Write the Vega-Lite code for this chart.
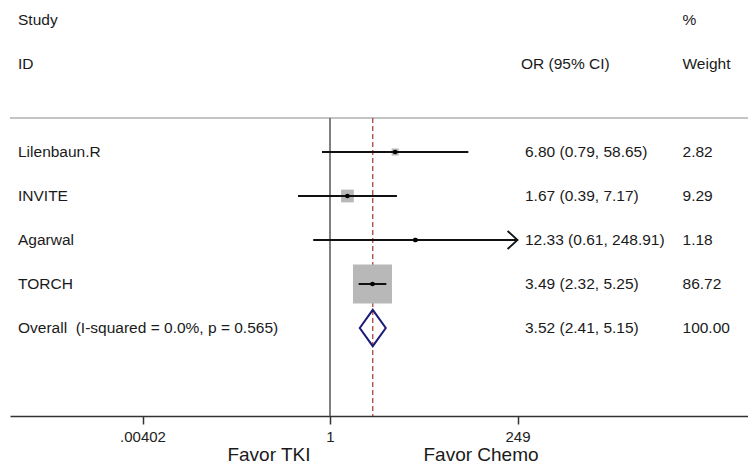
{
  "$schema": "https://vega.github.io/schema/vega-lite/v6.json",
  "width": 738,
  "height": 416,
  "autosize": {"type": "none"},
  "padding": {"left": 10, "right": 0, "top": 0, "bottom": 48},
  "background": "white",
  "config": {
    "view": {"stroke": null},
    "text": {"font": "Liberation Sans", "fontSize": 15.5, "color": "#1a1a1a"}
  },
  "datasets": {
    "rows": [
      {"row": 0, "type": "header", "id": "Study", "ci": "", "w": "%"},
      {"row": 1, "type": "header", "id": "ID", "ci": "OR (95% CI)", "w": "Weight"},
      {"row": 3, "type": "study", "id": "Lilenbaun.R", "or": 6.80, "lower": 0.79, "upper": 58.65, "weight": 2.82, "ci": "6.80 (0.79, 58.65)", "w": "2.82"},
      {"row": 4, "type": "study", "id": "INVITE", "or": 1.67, "lower": 0.39, "upper": 7.17, "weight": 9.29, "ci": "1.67 (0.39, 7.17)", "w": "9.29"},
      {"row": 5, "type": "study", "id": "Agarwal", "or": 12.33, "lower": 0.61, "upper": 248.91, "weight": 1.18, "ci": "12.33 (0.61, 248.91)", "w": "1.18"},
      {"row": 6, "type": "study", "id": "TORCH", "or": 3.49, "lower": 2.32, "upper": 5.25, "weight": 86.72, "ci": "3.49 (2.32, 5.25)", "w": "86.72"},
      {"row": 7, "type": "overall", "id": "Overall\u00a0 (I-squared = 0.0%, p = 0.565)", "or": 3.52, "lower": 2.41, "upper": 5.15, "weight": 100, "ci": "3.52 (2.41, 5.15)", "w": "100.00"}
    ]
  },
  "data": {"name": "rows"},
  "encoding": {
    "y": {"type": "quantitative", "scale": {"domain": [-0.4545, 9], "reverse": true, "nice": false, "zero": false}, "axis": null}
  },
  "layer": [
    {
      "data": {"values": [{}]},
      "mark": {"type": "rule", "color": "#b0b0b0", "strokeWidth": 1.5},
      "encoding": {"y": {"datum": 2.227, "type": "quantitative"}}
    },
    {
      "data": {"values": [{}]},
      "mark": {"type": "rule", "color": "#555555", "strokeWidth": 1.5},
      "encoding": {
        "x": {"datum": 1, "type": "quantitative"},
        "y": {"datum": 2.227, "type": "quantitative"},
        "y2": {"datum": 9}
      }
    },
    {
      "transform": [{"filter": "datum.type === 'overall'"}],
      "mark": {"type": "rule", "color": "#b04040", "strokeWidth": 1.3, "strokeDash": [5, 3]},
      "encoding": {
        "x": {"field": "or", "type": "quantitative"},
        "y": {"datum": 2.227, "type": "quantitative"},
        "y2": {"datum": 9}
      }
    },
    {
      "transform": [{"filter": "datum.type === 'study'"}],
      "mark": {"type": "point", "shape": "square", "filled": true, "color": "#b8b8b8", "opacity": 1},
      "encoding": {
        "x": {"field": "or", "type": "quantitative"},
        "y": {"field": "row", "type": "quantitative"},
        "size": {"field": "weight", "type": "quantitative", "scale": {"type": "linear", "domain": [0, 86.72], "range": [0, 1521]}, "legend": null}
      }
    },
    {
      "transform": [{"filter": "datum.type === 'study'"}],
      "mark": {"type": "rule", "color": "#111111", "strokeWidth": 2},
      "encoding": {
        "x": {"field": "lower", "type": "quantitative",
          "scale": {"type": "log", "domain": [0.0000814, 219700], "nice": false},
          "axis": {"values": [0.00402, 1, 249], "labelExpr": "datum.value < 0.01 ? '.00402' : format(datum.value, '~g')", "title": null, "grid": false, "domainColor": "#333333", "domainWidth": 1.5, "tickColor": "#333333", "tickWidth": 1.5, "tickSize": 8, "labelPadding": 5, "labelFont": "Liberation Sans", "labelFontSize": 15, "labelColor": "#222222"}},
        "x2": {"field": "upper"},
        "y": {"field": "row", "type": "quantitative"}
      }
    },
    {
      "transform": [{"filter": "datum.type === 'study'"}],
      "mark": {"type": "point", "shape": "circle", "filled": true, "color": "#000000", "opacity": 1, "size": 22},
      "encoding": {
        "x": {"field": "or", "type": "quantitative"},
        "y": {"field": "row", "type": "quantitative"}
      }
    },
    {
      "transform": [{"filter": "datum.id === 'Agarwal'"}],
      "mark": {"type": "point", "shape": "M-2.2,-2L0,0L-2.2,2", "filled": false, "color": "#111111", "strokeWidth": 1.8, "opacity": 1, "size": 81},
      "encoding": {
        "x": {"field": "upper", "type": "quantitative"},
        "y": {"field": "row", "type": "quantitative"}
      }
    },
    {
      "transform": [{"filter": "datum.type === 'overall'"}],
      "mark": {"type": "point", "shape": "M-1,0L0,-1.4L1,0L0,1.4Z", "filled": false, "fill": "white", "fillOpacity": 0, "color": "#1c1c78", "strokeWidth": 2, "opacity": 1, "size": 676},
      "encoding": {
        "x": {"field": "or", "type": "quantitative"},
        "y": {"field": "row", "type": "quantitative"}
      }
    },
    {
      "mark": {"type": "text", "align": "left", "baseline": "middle"},
      "encoding": {
        "x": {"datum": 0.000103, "type": "quantitative"},
        "y": {"field": "row", "type": "quantitative"},
        "text": {"field": "id"}
      }
    },
    {
      "transform": [{"filter": "datum.type !== 'header'"}],
      "mark": {"type": "text", "align": "left", "baseline": "middle"},
      "encoding": {
        "x": {"datum": 310.5, "type": "quantitative"},
        "y": {"field": "row", "type": "quantitative"},
        "text": {"field": "ci"}
      }
    },
    {
      "transform": [{"filter": "datum.type === 'header'"}],
      "mark": {"type": "text", "align": "left", "baseline": "middle"},
      "encoding": {
        "x": {"datum": 276, "type": "quantitative"},
        "y": {"field": "row", "type": "quantitative"},
        "text": {"field": "ci"}
      }
    },
    {
      "mark": {"type": "text", "align": "left", "baseline": "middle"},
      "encoding": {
        "x": {"datum": 31980, "type": "quantitative"},
        "y": {"field": "row", "type": "quantitative"},
        "text": {"field": "w"}
      }
    },
    {
      "data": {"values": [{"label": "Favor TKI", "side": 0.166}, {"label": "Favor Chemo", "side": 85.07}]},
      "mark": {"type": "text", "align": "center", "baseline": "middle", "fontSize": 19},
      "encoding": {
        "x": {"field": "side", "type": "quantitative"},
        "y": {"datum": 9.886, "type": "quantitative"},
        "text": {"field": "label"}
      }
    }
  ]
}
